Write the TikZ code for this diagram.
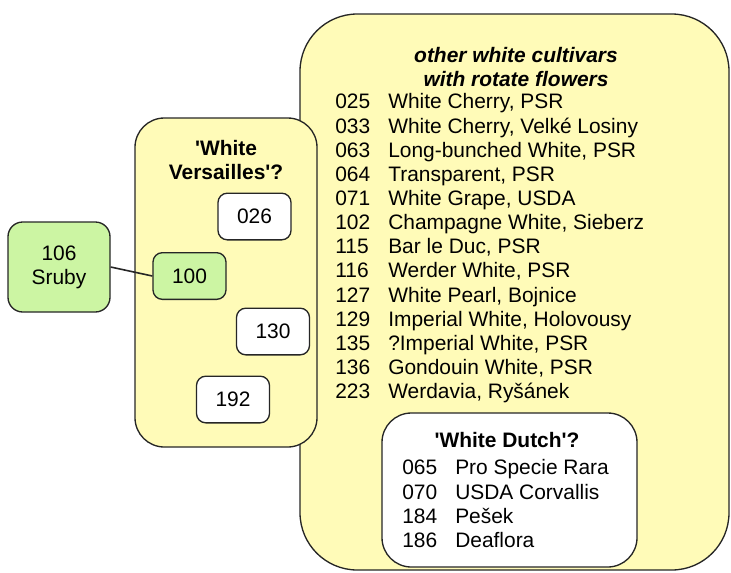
\documentclass[tikz,border=0pt]{standalone}
\usepackage{fontspec}
\setmainfont{Liberation Sans}
\usepackage{xcolor}
\usetikzlibrary{positioning}
\definecolor{paleyellow}{HTML}{FFFBB8}
\definecolor{palegreen}{HTML}{CCF5A3}
\newcommand{\lbl}{\fontsize{15.7}{18.1}\selectfont}
\newcommand{\cv}[2]{\makebox[39.75pt][l]{#1}#2}

\begin{document}
\begin{tikzpicture}[x=0.75pt, y=-0.75pt,
  grp/.style={draw=black!85, line width=1pt, fill=paleyellow},
  acc/.style={draw=black!85, line width=1pt, rounded corners=7pt, fill=white,
    minimum width=54.75pt, minimum height=35pt, font=\lbl},
  accg/.style={acc, fill=palegreen},
  grptitle/.style={font=\lbl\bfseries, align=center, inner sep=0pt},
  grpbody/.style={font=\lbl, align=left, inner sep=0pt, anchor=north west}
]
  \useasboundingbox (0,0) rectangle (731,572);

  % other white cultivars group
  \node[grp, rounded corners=43pt, minimum width=321.75pt, minimum height=417pt]
    (rot) at (514.5,292) {};
  \node[grptitle, font=\lbl\bfseries\itshape] (rott) at (516,67)
    {other white cultivars\\with rotate flowers};
  \node[grpbody] (rotb) at (335,93.5) {
    \cv{025}{White Cherry, PSR}\\
    \cv{033}{White Cherry, Velké Losiny}\\
    \cv{063}{Long-bunched White, PSR}\\
    \cv{064}{Transparent, PSR}\\
    \cv{071}{White Grape, USDA}\\
    \cv{102}{Champagne White, Sieberz}\\
    \cv{115}{Bar le Duc, PSR}\\
    \cv{116}{Werder White, PSR}\\
    \cv{127}{White Pearl, Bojnice}\\
    \cv{129}{Imperial White, Holovousy}\\
    \cv{135}{?Imperial White, PSR}\\
    \cv{136}{Gondouin White, PSR}\\
    \cv{223}{Werdavia, Ryšánek}
  };

  % White Dutch group
  \node[grp, fill=white, rounded corners=22pt, minimum width=191.25pt, minimum height=115.5pt]
    (dutch) at (509.5,490) {};
  \node[grptitle] (dutcht) at (507,440) {\textquotesingle White Dutch\textquotesingle?};
  \node[grpbody] (dutchb) at (402,459.5) {
    \cv{065}{Pro Specie Rara}\\
    \cv{070}{USDA Corvallis}\\
    \cv{184}{Pešek}\\
    \cv{186}{Deaflora}
  };

  % White Versailles group
  \node[grp, rounded corners=22pt, minimum width=136.5pt, minimum height=246.75pt]
    (vers) at (226,282.5) {};
  \node[grptitle] (verst) at (226,160)
    {\textquotesingle White\\Versailles\textquotesingle?};
  \node[acc]  (a026) at (254.5,216.5) {026};
  \node[accg] (a100) at (189.5,276)   {100};
  \node[acc]  (a130) at (273,331.5)   {130};
  \node[acc]  (a192) at (233,399.5)   {192};

  % Sruby
  \node[accg, align=center, rounded corners=11pt, minimum width=76.5pt, minimum height=67.5pt]
    (sruby) at (59,267) {106\\Sruby};

  \draw[line width=1.2pt, black!85] (sruby.east) -- (a100.west);

\end{tikzpicture}
\end{document}
